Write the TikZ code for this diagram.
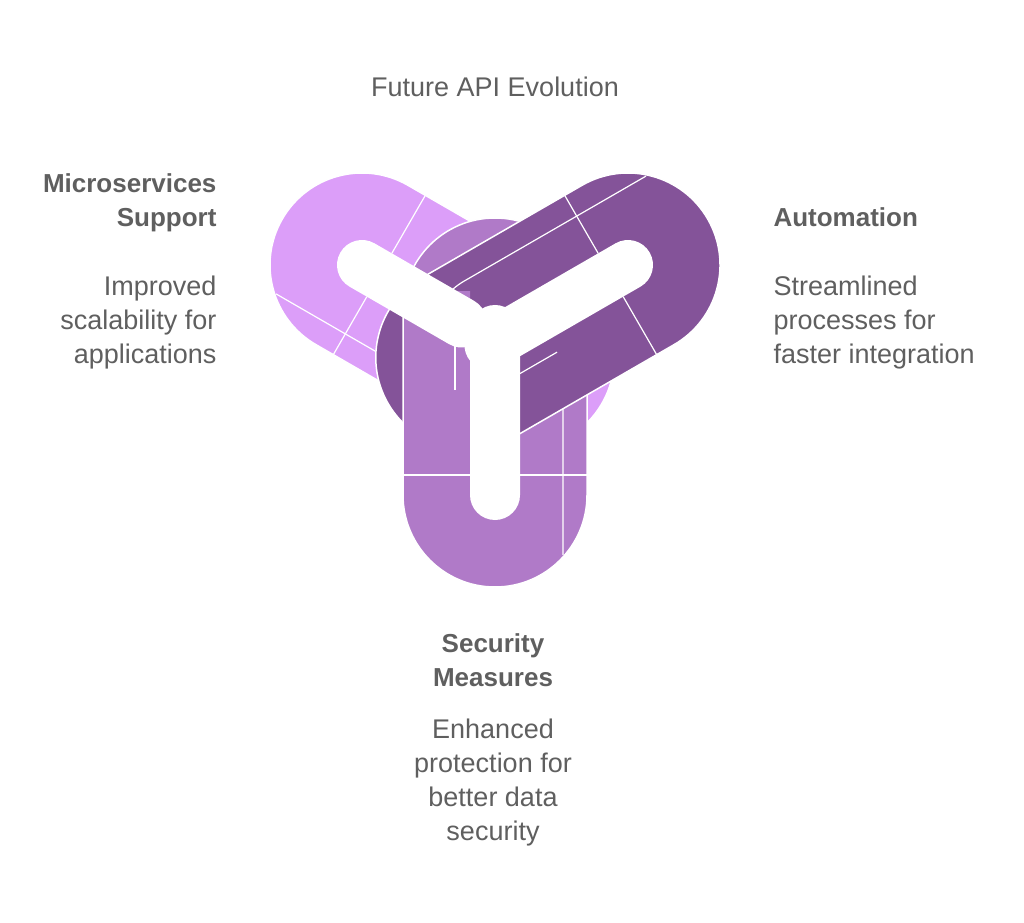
\documentclass[tikz,border=0pt]{standalone}
\usepackage{fontspec}
\setmainfont{Liberation Sans}
\definecolor{lp}{HTML}{DC9EF9}
\definecolor{mp}{HTML}{B07AC8}
\definecolor{dp}{HTML}{845399}
\definecolor{tx}{HTML}{5F5F5F}
\newcommand{\loopband}[4]{% color, x, y, angle
  \begin{scope}[shift={(#2,#3)},rotate=#4]
    \fill[#1,draw=white,line width=1.5pt]
      (0,-92) -- (185,-92) arc(-90:90:92) -- (0,92) arc(90:270:92) -- cycle;
    \draw[white,line width=1.2pt] (20,-92) -- (20,-25) (20,25) -- (20,92);
    \draw[white,line width=1.2pt] (-60,-68) -- (150,-68) arc(-90:0:68) -- (218,30);
    \draw[white,line width=1.2pt] (105,40) -- (185,40);
  \end{scope}}
\newcommand{\loophole}[4]{%
  \begin{scope}[shift={(#1,#2)},rotate=#3]
    \fill[white] (0,-25) -- (#4,-25) arc(-90:90:25) -- (0,25) arc(90:270:25) -- cycle;
  \end{scope}}
\tikzset{ttl/.style={text=tx,font=\fontsize{27}{34}\selectfont},
  hd/.style={text=tx,font=\fontsize{26}{34}\selectfont\bfseries}}
\begin{document}
\begin{tikzpicture}[x=1pt,y=1pt]
\useasboundingbox (0,0) rectangle (1024,922);
\loopband{lp}{362}{657}{-30}
\loopband{mp}{495}{427}{90}
\loopband{dp}{628}{657}{210}
\begin{scope}
  \clip (398,300) rectangle (470,630);
  \loopband{mp}{495}{427}{90}
\end{scope}
\loophole{362}{657}{-30}{115}
\loophole{495}{427}{90}{165}
\loophole{628}{657}{210}{160}
\node[ttl] (title) at (495,835) {Future API Evolution};
\node[hd,align=right,anchor=north east] (ms) at (220,752) {Microservices\\Support};
\node[ttl,align=right,anchor=north east] (msb) at (220,650) {Improved\\scalability for\\applications};
\node[hd,align=left,anchor=north west] (au) at (770,718) {Automation};
\node[ttl,align=left,anchor=north west] (aub) at (770,650) {Streamlined\\processes for\\faster integration};
\node[hd,align=center,anchor=north] (se) at (493,292) {Security\\Measures};
\node[ttl,align=center,anchor=north] (seb) at (493,207) {Enhanced\\protection for\\better data\\security};
\end{tikzpicture}
\end{document}
